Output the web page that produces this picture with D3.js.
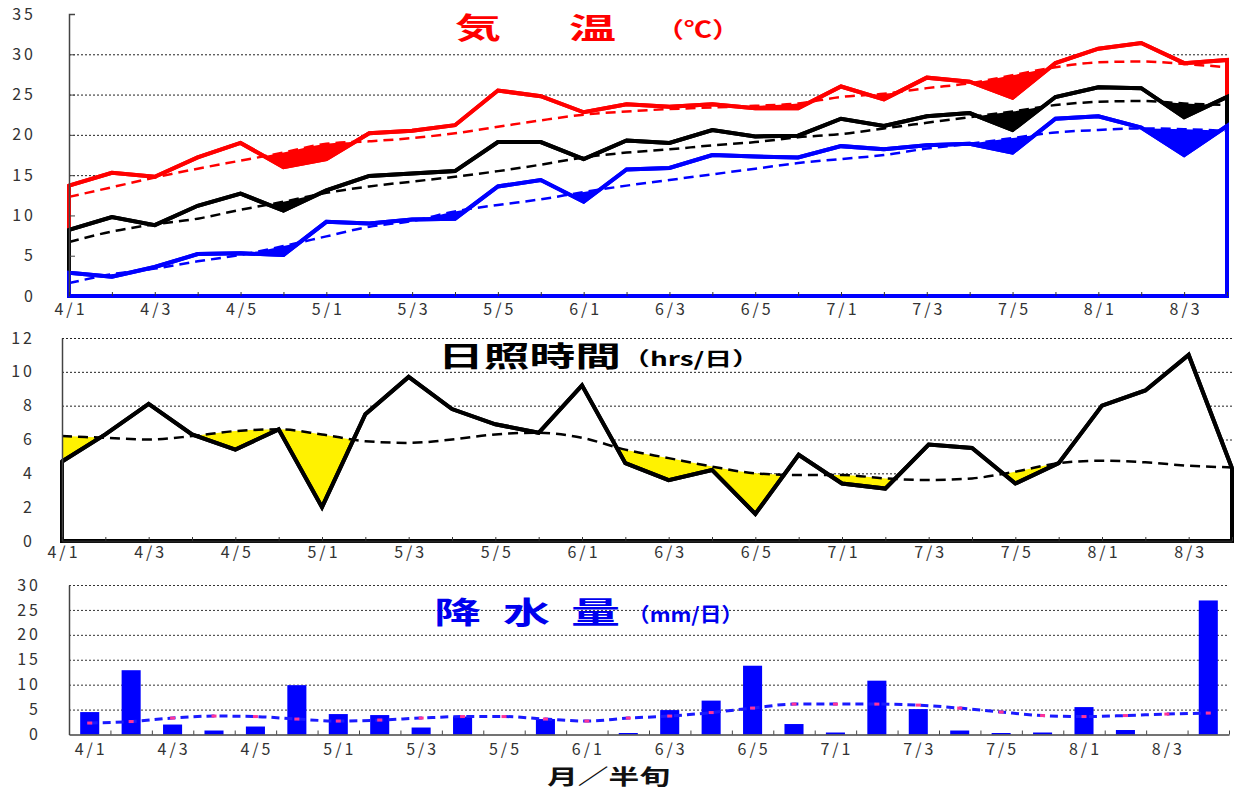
<!DOCTYPE html>
<html>
<head>
<meta charset="utf-8">
<script src="https://cdn.jsdelivr.net/npm/d3@7"></script>
<style>
  body { margin: 0; background: #fff; }
  svg { display: block; }
  text { font-family: "Noto Sans CJK JP", "Noto Sans", sans-serif; }
</style>
</head>
<body>
<svg id="chart" width="1238" height="791"></svg>
<script>
// half-decade (半旬) categories
var cats = ["4/1","4/2","4/3","4/4","4/5","4/6",
            "5/1","5/2","5/3","5/4","5/5","5/6",
            "6/1","6/2","6/3","6/4","6/5","6/6",
            "7/1","7/2","7/3","7/4","7/5","7/6",
            "8/1","8/2","8/3","8/4"];

// temperature (℃)
var tMax     = [13.7,15.3,14.8,17.2,19.0,16.0,17.0,20.2,20.5,21.2,25.5,24.8,22.8,23.8,23.5,23.8,23.3,23.3,26.0,24.4,27.1,26.6,24.6,28.9,30.7,31.4,28.9,29.3];
var tMaxNorm = [12.3,13.5,14.7,15.8,16.8,17.8,18.9,19.2,19.6,20.2,21.0,21.8,22.5,22.9,23.2,23.4,23.6,23.9,24.7,25.1,25.8,26.4,27.4,28.4,29.0,29.1,28.8,28.4];
var tMean     = [8.2,9.8,8.8,11.2,12.7,10.6,13.1,14.9,15.2,15.5,19.1,19.1,17.0,19.3,19.0,20.6,19.8,19.9,22.0,21.1,22.3,22.7,20.6,24.7,25.9,25.8,22.2,24.7];
var tMeanNorm = [6.7,8.0,8.9,9.6,10.7,11.7,12.8,13.6,14.2,14.8,15.5,16.3,17.2,17.8,18.2,18.7,19.1,19.7,20.1,20.8,21.5,22.2,22.9,23.7,24.1,24.2,23.9,23.7];
var tMin     = [2.9,2.4,3.6,5.2,5.3,5.1,9.2,9.0,9.5,9.6,13.6,14.4,11.7,15.7,15.9,17.5,17.3,17.2,18.6,18.2,18.7,18.9,17.8,22.0,22.3,20.9,17.5,21.1];
var tMinNorm = [1.6,2.7,3.4,4.3,5.1,6.2,7.4,8.6,9.3,10.5,11.3,12.0,12.9,13.7,14.4,15.1,15.8,16.5,17.0,17.5,18.3,18.9,19.6,20.3,20.6,20.8,20.7,20.5];

// sunshine (hrs/day)
var sun     = [4.7,6.3,8.1,6.3,5.4,6.6,2.0,7.5,9.7,7.8,6.9,6.4,9.2,4.6,3.6,4.2,1.6,5.1,3.4,3.1,5.7,5.5,3.4,4.6,8.0,8.9,11.0,4.3];
var sunNorm = [6.2,6.1,6.0,6.2,6.5,6.6,6.3,5.9,5.8,6.0,6.3,6.4,6.1,5.4,4.9,4.4,4.0,3.9,3.9,3.7,3.6,3.7,4.1,4.6,4.75,4.65,4.45,4.35];

// precipitation (mm/day)
var rain     = [4.5,12.9,2.0,0.8,1.6,9.9,4.1,3.9,1.4,3.6,0,3.1,0,0.3,4.9,6.8,13.8,2.1,0.4,10.8,5.1,0.8,0.3,0.4,5.5,0.9,0,26.9];
var rainNorm = [2.3,2.6,3.3,3.7,3.6,3.1,2.7,2.9,3.3,3.6,3.6,3.1,2.7,3.3,3.7,4.4,5.3,6.1,6.1,6.1,5.9,5.3,4.5,3.8,3.6,3.8,4.1,4.3];

var tTicks = [0,5,10,15,20,25,30,35];
var sTicks = [0,2,4,6,8,10,12];
var rTicks = [0,5,10,15,20,25,30];

var svg = d3.select("#chart");

function styleTickText(g, size) {
  g.selectAll(".tick text")
    .attr("fill", "#333")
    .style("font-size", size + "px")
    .style("letter-spacing", "3px");
}

// ---------------- temperature panel ----------------
var xT = d3.scalePoint().domain(cats).range([69, 1227]);
var yT = d3.scaleLinear().domain([0, 35]).range([296, 14]);

svg.append("g")
  .attr("transform", "translate(69,0)")
  .call(d3.axisLeft(yT).tickValues(tTicks.filter(d => d > 0 && d < 35)).tickSize(-1158).tickFormat(""))
  .call(g => g.select(".domain").remove())
  .call(g => g.selectAll(".tick line").attr("stroke", "#222").attr("stroke-dasharray", "2,2"));

function pairs(vals) { return vals.map((v, i) => [cats[i], v]); }

var tempSeries = [
  {act: tMax, norm: tMaxNorm, color: "#ff0000"},
  {act: tMean, norm: tMeanNorm, color: "#000000"},
  {act: tMin, norm: tMinNorm, color: "#0000ff"}
];

var normAreaT = d3.area().curve(d3.curveMonotoneX)
  .x(d => xT(d[0])).y0(yT(0)).y1(d => yT(d[1]));
var actAreaT = d3.area()
  .x(d => xT(d[0])).y0(yT(0)).y1(d => yT(d[1]));
var normLineT = d3.line().curve(d3.curveMonotoneX)
  .x(d => xT(d[0])).y(d => yT(d[1]));

var tg = svg.append("g");
tempSeries.forEach(function(s) {
  tg.append("path").attr("d", normAreaT(pairs(s.norm))).attr("fill", s.color);
  tg.append("path").attr("d", actAreaT(pairs(s.act)))
    .attr("fill", "#fff").attr("stroke", s.color)
    .attr("stroke-width", 4).attr("stroke-linejoin", "miter");
});
tempSeries.forEach(function(s) {
  tg.append("path").attr("d", normLineT(pairs(s.norm)))
    .attr("fill", "none").attr("stroke", s.color)
    .attr("stroke-width", 2.5).attr("stroke-dasharray", "10,6");
});
// actual lines again, over the dashed normals
tempSeries.forEach(function(s) {
  tg.append("path").attr("d", d3.line().x(d => xT(d[0])).y(d => yT(d[1]))(pairs(s.act)))
    .attr("fill", "none").attr("stroke", s.color)
    .attr("stroke-width", 4).attr("stroke-linejoin", "miter");
});

svg.append("g")
  .attr("transform", "translate(69,0)")
  .call(d3.axisLeft(yT).tickValues(tTicks).tickSize(-6).tickPadding(33))
  .call(g => g.select(".domain").attr("stroke", "#444").attr("stroke-width", 1.5))
  .call(g => g.selectAll(".tick line").attr("stroke", "#444"))
  .call(g => styleTickText(g, 16));

svg.append("g")
  .attr("transform", "translate(0,296)")
  .call(d3.axisBottom(xT).tickSize(-4).tickSizeOuter(0).tickPadding(8)
    .tickFormat((d, i) => i % 2 === 0 ? d : ""))
  .call(g => g.select(".domain").attr("stroke", "#0000ff").attr("stroke-width", 3))
  .call(g => g.selectAll(".tick line").attr("stroke", "#333"))
  .call(g => styleTickText(g, 16))
  .call(g => g.selectAll(".tick text").attr("dx", "1.5px"));

// ---------------- sunshine panel ----------------
var xS = d3.scalePoint().domain(cats).range([62, 1232]);
var yS = d3.scaleLinear().domain([0, 12]).range([541, 338]);

svg.append("g")
  .attr("transform", "translate(62,0)")
  .call(d3.axisLeft(yS).tickValues(sTicks.filter(d => d > 0)).tickSize(-1170).tickFormat(""))
  .call(g => g.select(".domain").remove())
  .call(g => g.selectAll(".tick line").attr("stroke", "#222").attr("stroke-dasharray", "2,2"));

var sg = svg.append("g");
sg.append("path")
  .attr("d", d3.area().curve(d3.curveMonotoneX).x(d => xS(d[0])).y0(yS(0)).y1(d => yS(d[1]))(pairs(sunNorm)))
  .attr("fill", "#fff200");
sg.append("path")
  .attr("d", d3.area().x(d => xS(d[0])).y0(yS(0)).y1(d => yS(d[1]))(pairs(sun)))
  .attr("fill", "#fff").attr("stroke", "#000").attr("stroke-width", 4);
sg.append("path")
  .attr("d", d3.line().curve(d3.curveMonotoneX).x(d => xS(d[0])).y(d => yS(d[1]))(pairs(sunNorm)))
  .attr("fill", "none").attr("stroke", "#000").attr("stroke-width", 2.5).attr("stroke-dasharray", "10,6");
sg.append("path")
  .attr("d", d3.line().x(d => xS(d[0])).y(d => yS(d[1]))(pairs(sun)))
  .attr("fill", "none").attr("stroke", "#000").attr("stroke-width", 4);

svg.append("g")
  .attr("transform", "translate(62,0)")
  .call(d3.axisLeft(yS).tickValues(sTicks).tickSize(0).tickPadding(27))
  .call(g => g.select(".domain").attr("stroke", "#444").attr("stroke-width", 1.5))
  .call(g => styleTickText(g, 16));

svg.append("g")
  .attr("transform", "translate(0,541)")
  .call(d3.axisBottom(xS).tickSize(-4).tickSizeOuter(0).tickPadding(6)
    .tickFormat((d, i) => i % 2 === 0 ? d : ""))
  .call(g => g.select(".domain").attr("stroke", "#222").attr("stroke-width", 2))
  .call(g => g.selectAll(".tick line").attr("stroke", "#333"))
  .call(g => styleTickText(g, 16))
  .call(g => g.selectAll(".tick text").attr("dx", "1.5px"));

// ---------------- precipitation panel ----------------
var xR = d3.scaleBand().domain(cats).range([69, 1229]).paddingInner(0.54).paddingOuter(0.27);
var yR = d3.scaleLinear().domain([0, 30]).range([734.5, 585]);

svg.append("g")
  .attr("transform", "translate(69,0)")
  .call(d3.axisLeft(yR).tickValues(rTicks.filter(d => d > 0)).tickSize(-1160).tickFormat(""))
  .call(g => g.select(".domain").remove())
  .call(g => g.selectAll(".tick line").attr("stroke", "#333").attr("stroke-dasharray", "2,2"));

var rg = svg.append("g");
rg.selectAll("rect.bar")
  .data(pairs(rain))
  .enter().append("rect")
  .attr("class", "bar")
  .attr("x", d => xR(d[0]))
  .attr("width", xR.bandwidth())
  .attr("y", d => yR(d[1]))
  .attr("height", d => yR(0) - yR(d[1]))
  .attr("fill", "#0000ff");

var cx = d => xR(d[0]) + xR.bandwidth() / 2;
rg.append("path")
  .attr("d", d3.line().curve(d3.curveMonotoneX).x(cx).y(d => yR(d[1]))(pairs(rainNorm)))
  .attr("fill", "none").attr("stroke", "#1a1aff").attr("stroke-width", 3).attr("stroke-dasharray", "8,5");
rg.selectAll("rect.mark")
  .data(pairs(rainNorm))
  .enter().append("rect")
  .attr("class", "mark")
  .attr("x", d => cx(d) - 2.5)
  .attr("y", d => yR(d[1]) - 1.5)
  .attr("width", 5).attr("height", 3)
  .attr("fill", "#ff3399");

svg.append("g")
  .attr("transform", "translate(69,0)")
  .call(d3.axisLeft(yR).tickValues(rTicks).tickSize(0).tickPadding(28))
  .call(g => g.select(".domain").attr("stroke", "#444").attr("stroke-width", 1.5))
  .call(g => styleTickText(g, 16));

var xRticks = d3.scalePoint().domain(d3.range(cats.length + 1)).range([69, 1229]);
svg.append("g")
  .attr("transform", "translate(0,734.5)")
  .call(d3.axisBottom(xRticks).tickSize(-4).tickSizeOuter(0).tickFormat(""))
  .call(g => g.select(".domain").attr("stroke", "#444").attr("stroke-width", 1.5))
  .call(g => g.selectAll(".tick line").attr("stroke", "#444"));
svg.append("g")
  .attr("transform", "translate(0,734.5)")
  .call(d3.axisBottom(xR).tickSize(0).tickPadding(9)
    .tickFormat((d, i) => i % 2 === 0 ? d : ""))
  .call(g => g.select(".domain").remove())
  .call(g => styleTickText(g, 16))
  .call(g => g.selectAll(".tick text").attr("dx", "1.5px"));

// ---------------- titles ----------------
function title(txt, x, y, size, len, color, weight) {
  svg.append("text").attr("x", x).attr("y", y)
    .attr("fill", color).style("font-size", size + "px").style("font-weight", weight || 700)
    .attr("textLength", len).attr("lengthAdjust", "spacingAndGlyphs")
    .text(txt);
}
title("気", 455, 39, 29, 46, "#ff0000");
title("温", 569, 39, 29, 47, "#ff0000");
title("（℃）", 656, 37, 22, 84, "#ff0000");

title("日照時間", 438, 367, 28, 183, "#000");
title("（hrs/日）", 622, 366, 19, 138, "#000");

title("降", 434, 623, 30, 47, "#0000ee");
title("水", 503, 623, 30, 47, "#0000ee");
title("量", 571, 623, 30, 49, "#0000ee");
title("（mm/日）", 628, 622, 20, 115, "#0000ee");

title("月／半旬", 547, 784, 21, 123, "#111", 600);
</script>
</body>
</html>
